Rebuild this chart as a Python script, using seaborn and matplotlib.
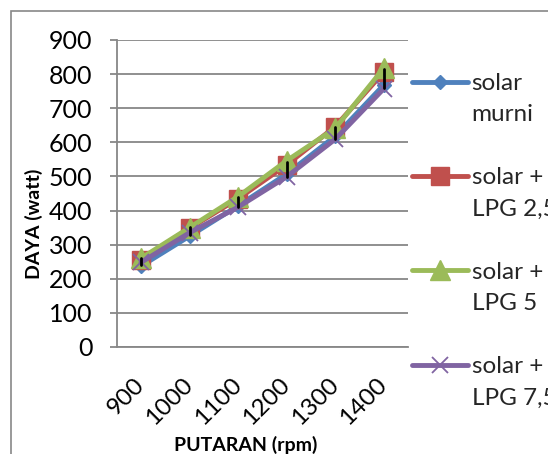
import matplotlib
matplotlib.use("Agg")
import matplotlib.pyplot as plt
from matplotlib.lines import Line2D
from matplotlib.patches import Rectangle
import pandas as pd
import seaborn as sns

# Engine speed (rpm) and measured power (watt) for each fuel mix
rpm = ["900", "1000", "1100", "1200", "1300", "1400"]
solar_murni = [237, 325, 414, 507, 618, 768]
solar_lpg_2_5 = [255, 348, 435, 534, 646, 806]
solar_lpg_5 = [260, 350, 441, 546, 641, 817]
solar_lpg_7_5 = [248, 335, 410, 499, 609, 757]

series_names = ["solar\nmurni", "solar +\nLPG 2,5", "solar +\nLPG 5", "solar +\nLPG 7,5"]
series_values = [solar_murni, solar_lpg_2_5, solar_lpg_5, solar_lpg_7_5]
colors = ["#4F81BD", "#C0504D", "#9BBB59", "#8064A2"]
markers = ["D", "s", "^", "x"]
marker_sizes = [7.5, 12.5, 14, 12]
marker_edge = [1, 1, 1, 1.3]

y_ticks = [0, 100, 200, 300, 400, 500, 600, 700, 800, 900]

long = pd.DataFrame(
    [(name, r, v) for name, vals in zip(series_names, series_values) for r, v in zip(rpm, vals)],
    columns=["series", "rpm", "daya"],
)

sns.set_theme(style="white")
plt.rcParams["font.family"] = ["Lato", "DejaVu Sans"]

GRAY = "#878787"

fig = plt.figure(figsize=(5.48, 4.54), dpi=100)
ax = fig.add_axes([0.2130, 0.2357, 0.5315, 0.6762])

# Chart frame
fig.patches.append(Rectangle((10.5 / 548, -0.2), 1.2, 0.2 + (1 - 11 / 454),
                             transform=fig.transFigure, fill=False,
                             edgecolor=GRAY, linewidth=1.2, zorder=0))

for name, col, mk, ms, mew in zip(series_names, colors, markers, marker_sizes, marker_edge):
    sub = long[long["series"] == name]
    sns.pointplot(data=sub, x="rpm", y="daya", order=rpm, errorbar=None, ax=ax,
                  color=col, marker=mk, markersize=ms, linewidth=3.5,
                  markeredgecolor=col, markeredgewidth=mew)

# Spread across the four mixes at each speed (mean +/- sd)
sns.pointplot(data=long, x="rpm", y="daya", order=rpm, errorbar="sd", ax=ax,
              color="black", marker="", linestyle="none",
              err_kws={"linewidth": 2.0})

ax.set_ylim(0, 900)
ax.set_yticks(y_ticks)
ax.set_xlim(-0.5, len(rpm) - 0.5)
ax.grid(axis="y", color=GRAY, linewidth=1.3)
ax.grid(axis="x", visible=False)
ax.set_axisbelow(True)
for side in ["top", "right"]:
    ax.spines[side].set_visible(False)
for side in ["left", "bottom"]:
    ax.spines[side].set_color(GRAY)
    ax.spines[side].set_linewidth(1.3)

ax.tick_params(axis="y", left=True, length=5, width=1.3, color=GRAY, pad=12.5,
               labelsize=18, labelcolor="black")
ax.tick_params(axis="x", bottom=False, length=0, pad=25, labelsize=17.5, labelcolor="black")
for lab in ax.get_xticklabels():
    lab.set_rotation(45)
    lab.set_rotation_mode("anchor")
    lab.set_ha("right")
    lab.set_va("center")

ax.set_xlabel("PUTARAN (rpm)", fontsize=14, fontweight="bold", color="black")
ax.set_ylabel("DAYA (watt)", fontsize=14, fontweight="bold", color="black")
ax.xaxis.set_label_coords(0.444, -0.29)
ax.yaxis.set_label_coords(-0.253, 0.40)

# Legend: one handle per mix, label on two lines
handles, labels = [], []
blank = Line2D([], [], linestyle="none")
for i, (name, col, mk, ms, mew) in enumerate(zip(series_names, colors, markers, marker_sizes, marker_edge)):
    first, second = name.split("\n")
    handles.append(Line2D([], [], color=col, linewidth=3.5, marker=mk, markersize=ms,
                          markeredgecolor=col, markeredgewidth=mew))
    labels.append(first)
    handles.append(blank)
    labels.append(second)
    if i < len(series_names) - 1:
        handles.append(blank)
        labels.append(" ")

fig.legend(handles, labels, loc="upper left", bbox_to_anchor=(412 / 548, 1 - 73 / 454),
           bbox_transform=fig.transFigure, frameon=False, fontsize=17.5,
           handlelength=2.3, handletextpad=0.15, labelspacing=0.43,
           borderpad=0, borderaxespad=0, numpoints=1)

fig.savefig("out.png", dpi=100)
